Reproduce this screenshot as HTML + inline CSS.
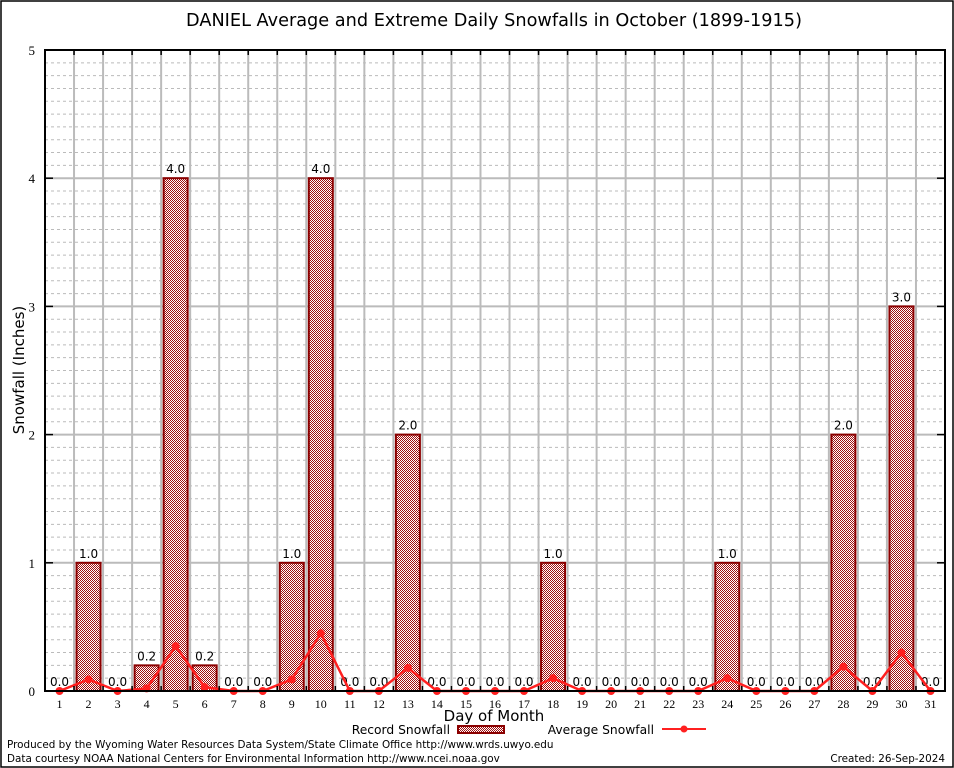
<!DOCTYPE html>
<html><head><meta charset="utf-8"><style>
html,body{margin:0;padding:0;background:#fff;}
svg{display:block;font-family:"DejaVu Sans","Liberation Sans",sans-serif;}
</style></head><body>
<svg id="chart" width="954" height="768" viewBox="0 0 954 768" xmlns="http://www.w3.org/2000/svg">
<defs>
<pattern id="chk" width="2" height="2" patternUnits="userSpaceOnUse">
<rect width="2" height="2" fill="#fff"/>
<rect width="1" height="1" fill="#a01010"/>
<rect x="1" y="1" width="1" height="1" fill="#a01010"/>
</pattern>
</defs>
<rect x="1" y="1" width="952" height="766" fill="none" stroke="#000" stroke-width="1.5"/>
<text x="494" y="26" text-anchor="middle" font-size="17.7">DANIEL Average and Extreme Daily Snowfalls in October (1899-1915)</text>
<g id="grid"></g>
<g id="bars"></g>
<g id="line"></g>
<g id="axes"></g>
<text transform="translate(24,370) rotate(-90)" text-anchor="middle" font-size="15">Snowfall (Inches)</text>
<text x="494" y="721" text-anchor="middle" font-size="15">Day of Month</text>
<g>
<text x="450" y="734" text-anchor="end" font-size="12.3">Record Snowfall</text>
<rect x="458" y="726" width="46" height="7" fill="url(#chk)" stroke="#8b0000" stroke-width="2"/>
</g>
<g>
<text x="654" y="734" text-anchor="end" font-size="12.3">Average Snowfall</text>
<line x1="662" y1="729" x2="706" y2="729" stroke="#ff2020" stroke-width="2"/>
<circle cx="684" cy="729" r="3.5" fill="#ff2020"/>
</g>
<text x="7" y="748" font-size="10.4">Produced by the Wyoming Water Resources Data System/State Climate Office http://www.wrds.uwyo.edu</text>
<text x="7" y="762" font-size="10.4">Data courtesy NOAA National Centers for Environmental Information http://www.ncei.noaa.gov</text>
<text x="945" y="762" text-anchor="end" font-size="10.4">Created: 26-Sep-2024</text>
</svg>
<script>
const days = Array.from({length:31},(_,i)=>i+1);
const recordValues = [0,1,0,0.2,4,0.2,0,0,1,4,0,0,2,0,0,0,0,1,0,0,0,0,0,1,0,0,0,2,0,3,0];
const averageValues = [0,0.09,0,0.02,0.35,0.03,0,0,0.09,0.45,0,0,0.18,0,0,0,0,0.1,0,0,0,0,0,0.1,0,0,0,0.19,0,0.3,0];
const yTicks = [0,1,2,3,4,5];
const NS="http://www.w3.org/2000/svg";
const L=45,R=945,T=50,B=691,YMAX=5;
const step=(R-L)/days.length;
const x=d=>L+step*(d-0.5);
const y=v=>B-(B-T)*v/YMAX;
function mk(tag,attrs,parent,text){const e=document.createElementNS(NS,tag);for(const k in attrs)e.setAttribute(k,attrs[k]);if(text!==undefined)e.textContent=text;parent.appendChild(e);return e;}
const grid=document.getElementById('grid'),bars=document.getElementById('bars'),line=document.getElementById('line'),axes=document.getElementById('axes');
for(let v=0.1;v<YMAX-0.01;v+=0.1){
  if(Math.abs(v-Math.round(v))<0.01)continue;
  const g=mk('line',{x1:L,x2:R,y1:y(v),y2:y(v),stroke:'#bbb','stroke-dasharray':'3,3','stroke-width':1},grid);
  
  
}
yTicks.forEach(t=>{
  const g=mk('line',{x1:L,x2:R,y1:y(t),y2:y(t),stroke:'#bbb','stroke-width':2},grid);
  
  
  const lb=mk('text',{x:L-10,y:y(t)+5,'text-anchor':'end','font-size':13,'font-family':'Liberation Serif, serif'},axes,String(t));
  
  
  mk('line',{x1:L,x2:L+8,y1:y(t),y2:y(t),stroke:'#000','stroke-width':1.5},axes);
  mk('line',{x1:R,x2:R-8,y1:y(t),y2:y(t),stroke:'#000','stroke-width':1.5},axes);
});
for(let i=1;i<days.length;i++){
  const gx=L+step*i;
  const g=mk('line',{x1:gx,x2:gx,y1:T,y2:B,stroke:'#bbb','stroke-width':2},grid);
  
  
  mk('line',{x1:gx,x2:gx,y1:T,y2:T+5,stroke:'#000','stroke-width':1.5},axes);
  mk('line',{x1:gx,x2:gx,y1:B,y2:B-5,stroke:'#000','stroke-width':1.5},axes);
}
days.forEach((d,i)=>{
  const v=recordValues[i];
  if(v>0){
    const r=mk('rect',{x:x(d)-12,y:y(v),width:24,height:B-y(v),fill:'url(#chk)',stroke:'#8b0000','stroke-width':2},bars);
    
    
  }
  const t=mk('text',{x:x(d),y:y(v)-5,'text-anchor':'middle','font-size':12},bars,v.toFixed(1));
  
  
  const xl=mk('text',{x:x(d),y:B+17,'text-anchor':'middle','font-size':12,'font-family':'Liberation Serif, serif'},axes,String(d));
  
  
});
const pts=days.map((d,i)=>x(d)+','+y(averageValues[i])).join(' ');
const pl=mk('polyline',{points:pts,fill:'none',stroke:'#ff2020','stroke-width':2.5},line);


days.forEach((d,i)=>{
  const c=mk('circle',{cx:x(d),cy:y(averageValues[i]),r:4,fill:'#ff2020'},line);
  
  
});
const fr=mk('rect',{x:L,y:T,width:R-L,height:B-T,fill:'none',stroke:'#000','stroke-width':2},axes);


</script>
</body></html>
